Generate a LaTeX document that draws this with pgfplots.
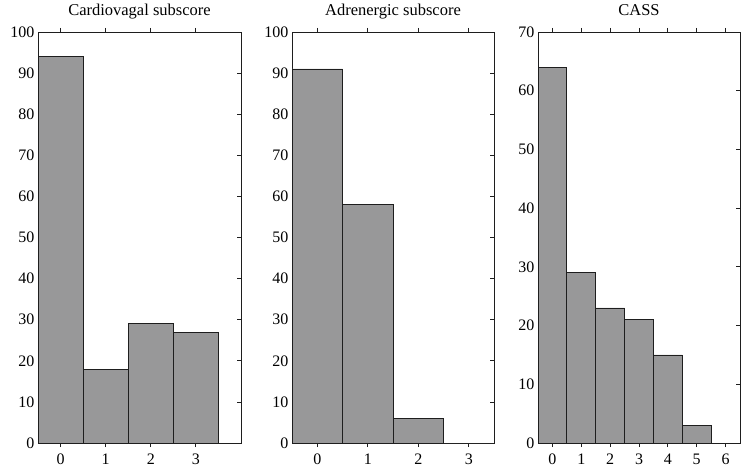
\documentclass[border=0pt]{standalone}
\usepackage{pgfplots}
\pgfplotsset{compat=1.18}
\usepackage{fontspec}
\setmainfont{Liberation Serif}
\definecolor{barfill}{RGB}{152,152,153}
\definecolor{edge}{RGB}{30,30,30}
\pgfplotsset{
  hist/.style={
    scale only axis,
    height=411pt,
    ymin=0,
    axis line style={edge, line width=0.8pt},
    tick style={edge, line width=0.8pt},
    tick align=inside,
    major tick length=4pt,
    xtick pos=both, ytick pos=both,
    tick label style={font=\fontsize{16}{18}\selectfont},
    /pgf/number format/assume math mode=true,
    title style={font=\fontsize{16.5}{19}\selectfont, at={(0.5,1)}, anchor=base, yshift=10pt},
    xticklabel style={yshift=-3pt},
    ybar, bar width=1, bar shift=0pt,
  },
  bars/.style={fill=barfill, draw=edge, line width=0.8pt},
}
\begin{document}
\begin{tikzpicture}[x=1pt,y=1pt]
\useasboundingbox (0,0) rectangle (751,474);
\begin{axis}[hist, at={(38pt,31pt)}, anchor=south west, width=203pt,
  xmin=-0.5, xmax=4, ymax=100, xtick={0,1,2,3}, ytick={0,10,...,100},
  title={Cardiovagal subscore}]
\addplot[bars] coordinates {(0,94) (1,18) (2,29) (3,27)};
\end{axis}
\begin{axis}[hist, at={(292pt,31pt)}, anchor=south west, width=202pt,
  xmin=-0.5, xmax=3.5, ymax=100, xtick={0,1,2,3}, ytick={0,10,...,100},
  title={Adrenergic subscore}]
\addplot[bars] coordinates {(0,91) (1,58) (2,6) (3,0)};
\end{axis}
\begin{axis}[hist, at={(538pt,31pt)}, anchor=south west, width=202pt,
  xmin=-0.5, xmax=6.5, ymax=70, xtick={0,1,2,3,4,5,6}, ytick={0,10,...,70},
  title={CASS}]
\addplot[bars] coordinates {(0,64) (1,29) (2,23) (3,21) (4,15) (5,3)};
\end{axis}
\end{tikzpicture}
\end{document}
